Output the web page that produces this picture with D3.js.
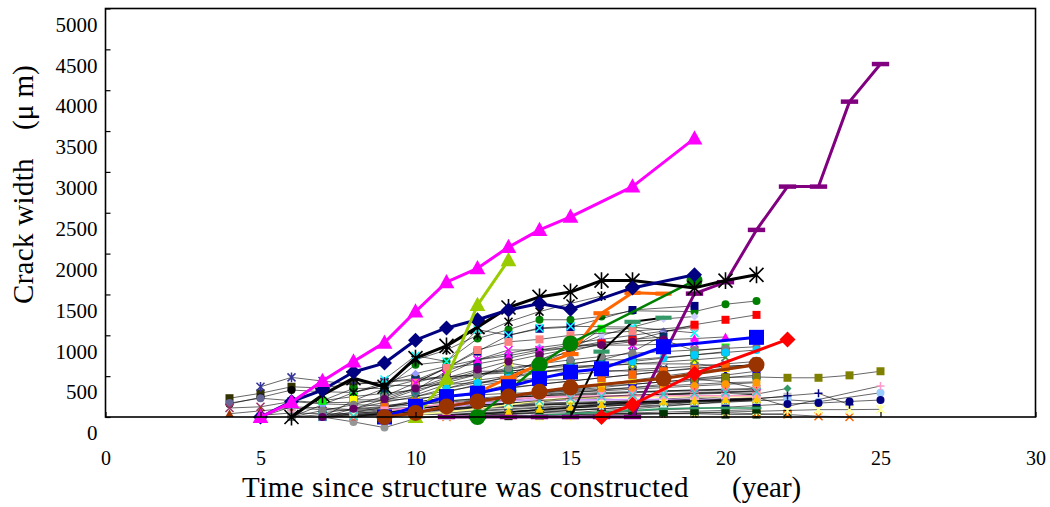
<!DOCTYPE html>
<html>
<head>
<meta charset="utf-8">
<script src="https://cdn.jsdelivr.net/npm/d3@7"></script>
<style>
  body { margin: 0; background: #fff; }
  svg text { font-family: "Liberation Serif", "Times New Roman", serif; fill: #000; }
</style>
</head>
<body>
<svg id="chart" width="1050" height="507"></svg>
<script>
// tick values
const xTicks = [0, 5, 10, 15, 20, 25, 30]
const yTicks = [0, 500, 1000, 1500, 2000, 2500, 3000, 3500, 4000, 4500, 5000]

// highlighted series (year, crack width in micrometres)
const magentaYears = [5, 6, 7, 8, 9, 10, 11, 12, 13, 14, 15, 17, 19]
const magentaValues = [0, 180, 440, 680, 910, 1290, 1650, 1820, 2080, 2290, 2450, 2820, 3410]
const navyYears = [5, 6, 7, 8, 9, 10, 11, 12, 13, 14, 15, 17, 19]
const navyValues = [0, 190, 330, 550, 660, 940, 1090, 1190, 1310, 1390, 1320, 1580, 1740]
const blackYears = [6, 7, 8, 9, 10, 11, 12, 13, 14, 15, 16, 17, 19, 20, 21]
const blackValues = [0, 270, 475, 370, 720, 870, 1100, 1340, 1470, 1530, 1670, 1670, 1580, 1670, 1740]
const limeYears = [10, 11, 12, 13]
const limeValues = [0, 470, 1370, 1920]
const orangeYears = [12, 13, 14, 15, 16, 17, 18]
const orangeValues = [300, 480, 640, 770, 1270, 1520, 1510]
const greenYears = [12, 13, 14, 15, 19]
const greenValues = [0, 320, 640, 900, 1670]
const blueYears = [9, 10, 11, 12, 13, 14, 15, 16, 18, 21]
const blueValues = [0, 130, 250, 290, 370, 470, 550, 590, 860, 975]
const brownYears = [9, 10, 11, 12, 13, 14, 15, 18, 21]
const brownValues = [0, 50, 130, 190, 250, 310, 360, 470, 640]
const redYears = [16, 17, 19, 22]
const redValues = [0, 150, 530, 950]
const purpleYears = [11, 12, 13, 14, 15, 16, 17, 19, 20, 21, 22, 23, 24, 25]
const purpleValues = [0, 0, 0, 0, 0, 0, 0, 1510, 1650, 2290, 2820, 2820, 3860, 4320]
const seaYears = [15, 16, 17, 18]
const seaValues = [0, 800, 1165, 1215]

// other structures: first year of record, then yearly readings (null = not measured)
const thinStart = [4, 4, 4, 4, 4, 5, 5, 5, 6, 6, 7, 7, 7, 7, 7, 7, 8, 8, 8, 8, 9, 9, 9, 9, 9,
    10, 10, 10, 10, 10, 10, 10, 11, 11, 11, 12, 12, 12, 13, 13, 14, 15, 16, 19, 11, 7,
    7, 7, 8, 8, 7, 6, 9, 10, 12, 9, 11, 7, 8, 13, 10, 9, 8, 11]
const thinValues = [
    [230, 290, 370, 355, 410, 430, 470, 490, 520, 540, 560, 565, 570, 560, 575],
    [160, 240, 330, 310, 300, 390, 380, 400, 420, 440, 450, 460],
    [170, 230, 200, 175, 180, 200, 230, 250, 270, 290, 300],
    [110, 125, 190, 160, 150, 140, 170, 200, 220, 240, 260, 270, 290, 300, 320, 330, 340],
    [40, 75, 110, 90, 80, 100, 120, 130, 150, 160, 170, 180, 190, 200],
    [370, 485, 440, 400, 430, 450, 480, 520, 560, 600, 650, 700, 800, 1000],
    [0, 125, 110, 90, 120, 150, 190, 230, 260, 290, 320, 340, 360, 380, 400, 420, 430],
    [20, 50, 40, 30, 50, 70, 90, 110, 130, 150, 160, 170, 180, 200, 210, 220],
    [0, 30, 50, 60, 80, 100, 120, 140, 160, 170, 180, 190, 200, 210, 220, 230],
    [0, 150, 300, 420, 530, 620, 700, 780, 850, 900, 950, 1000, 1050, 1100],
    [200, 350, 350, 640, 680, 960, 1070, 1190, 1190, 1230, 1300, null, 1290, 1380, 1420],
    [200, 250, 290, 330, 420, 520, 580, 650, 820, 1080, 1080, null, 810, 850],
    [0, 200, 350, 450, 600, 650, 720, 800, 850, 900, 950, 980],
    [0, 10, 20, 30, 30, 40, 40, 50, 50, 50, 40, 40, 40, 30, 30, 40],
    [0, 20, 40, 60, 80, 100, 120, 140, 160, 180, 200, 220, 240, 260, 280],
    [0, -60, -130, -20, 20, 40, 60, 80, 90, 100],
    [300, 390, 700, 820, 1000, 1165, 1290, 1390, 1480],
    [100, 130, 200, 300, 400, 500, 700, 850, 1000, 1100, 1200, 1230],
    [210, 210, 270, 400, 470, 660, 600, 620, null, 650, null, 650, 620],
    [60, 90, 110, 130, 150, 170, 190, 210, 230, 250, 270, 290, 300, 320],
    [250, 420, 600, 800, 1000, 1080, 1100, null, 1310, null, 1360],
    [460, 750, 680, 1070, 1000, 1090, 1110, null, 1100, null, 1030],
    [200, 330, 560, 700, 750, 820, 850, 920, 930, null, 960, 980],
    [60, 100, 150, 200, 250, 300, 340, 380, 400, 430, 460, 432, 350],
    [40, 80, 120, 160, 200, 210, 210, 210, 215, 215, 215, 215, 215],
    [420, 600, 820, 920, 950, 1000, null, 1050, null, 1110],
    [420, 520, 700, 820, 820, 880, null, 880, null, 900],
    [300, 450, 560, 560, 600, 650, 700, 700, null, 760, 800],
    [250, 350, 450, 500, 550, 600, 620, 650, null, 700, 730],
    [100, 150, 200, 250, 300, 330, 360, 400, 430, 470, 513, 560],
    [0, 0, 10, 20, 20, 30, 30, 40, 40, 50, 50, 40, 30, 10, 0],
    [150, 180, 210, 240, 260, 280, 300, 310, 320, 330, 340, 350],
    [150, 200, 230, 260, 300, 330, 360, 400, 450, 480, 513],
    [80, 120, 160, 200, 230, 250, 260, 270, 280, 290, 290],
    [30, 50, 70, 90, 110, 130, 150, 170, 190, 210, 230, 248],
    [300, 400, 700, 800, 900, 940, null, 1130, 1190, 1250],
    [30, 60, 90, 110, 130, 150, 170, 180, 190, 200, 210, 187, null, 297],
    [20, 40, 60, 80, 100, 120, 140, 160, 180, 200],
    [50, 80, 110, 140, 160, 180, 200, 220, 240, 130, null, null, 380],
    [60, 90, 120, 150, 180, 200, 220, 250, 280, 350],
    [0, 10, 20, 30, 40, 50, 60, 70, 80, 90, 90, 94],
    [50, 80, 100, 130, 160, 190, 220, 260, 290, 150],
    [50, 70, 90, 100, 120, 140, 160, 170, 190, 208],
    [470, 485, 490, 480, 480, 510, 560],
    [0, 20, 30, 50, 80, 100, 130, 150, 180, 200, 230],
    [0, 30, 60, 90, 150, 200, 250, 300, 350, 400, 450, 500, 550, 600, 650],
    [0, 40, 80, 120, 160, 200, 240, 280, 300, 320, 340, 360, 380, 400, 420],
    [0, 60, 120, 180, 240, 300, 350, 400, 440, 480, 520, 560, 600, 620, 640],
    [0, 30, 60, 100, 130, 160, 190, 220, 240, 260, 280, 300, 310, 320],
    [20, 40, 70, 100, 120, 140, 150, 160, 170, 180, 190, 200, 200, 210],
    [50, 100, 180, 250, 320, 380, 440, 480, 520, 550, 580, 600, 620, 650, 680],
    [0, 80, 150, 250, 350, 450, 520, 600, 650, 700, 740, 780, 800, 820, 840, 860],
    [10, 30, 50, 70, 90, 110, 130, 150, 170, 180, 190, 200, 210],
    [40, 60, 80, 100, 120, 140, 160, 180, 190, 200, 210, 220],
    [0, 10, 20, 30, 40, 50, 60, 70, 80, 90],
    [120, 180, 240, 300, 360, 400, 440, 480, 520, 560, 590, 620, 640],
    [350, 420, 480, 540, 600, 640, 680, 720, 760, 790, 820],
    [0, 100, 220, 350, 480, 580, 680, 760, 830, 880, 920, 950],
    [0, 50, 100, 150, 180, 210, 240, 260, 280, 300, 310, 320, 330, 340],
    [0, 20, 40, 60, 80, 100, 110, 110, 110],
    [30, 60, 100, 150, 200, 230, 240, 245, 245, 250, 250, 250],
    [80, 120, 160, 190, 220, 240, 250, 255, 260, 260, 260, 260, 260],
    [10, 40, 70, 100, 140, 170, 200, 230, 250, 270, 280, 290, 300, 310],
    [20, 40, 60, 90, 120, 150, 170, 190, 200, 210, 220]
]
const thinColors = ["#333300", "#000000", "#666699", "#993366", "#993300", "#333399", "#00FFFF", "#FF99CC",
    "#008080", "#9999FF", "#008000", "#00FF00", "#003366", "#003300", "#33CCCC", "#969696", "#000000",
    "#CCCCFF", "#FFFF00", "#FF99CC", "#000080", "#00FFFF", "#FF00FF", "#800000", "#CC99FF", "#FF8080",
    "#FF00FF", "#008080", "#339933", "#000080", "#FF6600", "#FFCC99", "#0000FF", "#FF00FF", "#C0C0C0",
    "#FF0000", "#99CCFF", "#800080", "#FF99CC", "#339966", "#FFFF99", "#000080", "#000080", "#808000",
    "#CCFFFF", "#FFCC00",
    "#FF9900", "#3366FF", "#FF0000", "#CCFFCC", "#666699", "#808080", "#0066CC", "#CCCC00", "#003300",
    "#FF6600", "#00CCFF", "#660066", "#FF8080", "#339966", "#FFFF99", "#FF99CC", "#33CCCC", "#FFCC00"]
const thinShapes = ["square", "circle", "circle", "x", "triangle", "star", "x", "star",
    "square", "diamond", "circle", "square", "square", "square", "x", "circle", "star",
    "diamond", "square", "square", "square", "x", "triangle", "circle", "circle", "square",
    "x", "square", "x", "diamond", "x", "square", "square", "x", "square",
    "square", "circle", "square", "plus", "diamond", "star", "plus", "circle", "square",
    "triangle", "square",
    "circle", "square", "triangle", "square", "x", "circle", "diamond", "star", "square",
    "square", "circle", "circle", "x", "dash", "square", "square", "x", "triangle"]
// a few background lines are drawn in the marker colour instead of black
const colouredLines = [24, 59, 60, 61]

const svg = d3.select("#chart")
const x = d3.scaleLinear().domain([0, 30]).range([105.5, 1035.5])
const y = d3.scaleLinear().domain([0, 5000]).range([417, 8.5])

function markerPath(shape, s) {
    const h = s / 2
    switch (shape) {
        case "square": return `M${-h},${-h}h${s}v${s}h${-s}Z`
        case "circle": return `M${-h},0a${h},${h} 0 1,0 ${s},0a${h},${h} 0 1,0 ${-s},0`
        case "triangle": return `M0,${-h * 1.1}L${h * 1.05},${h * 0.8}L${-h * 1.05},${h * 0.8}Z`
        case "diamond": return `M0,${-h}L${h},0L0,${h}L${-h},0Z`
        case "x": return `M${-h},${-h}L${h},${h}M${-h},${h}L${h},${-h}`
        case "star": return `M${-h},${-h}L${h},${h}M${-h},${h}L${h},${-h}M0,${-h * 1.2}V${h * 1.2}`
        case "plus": return `M${-h},0H${h}M0,${-h}V${h}`
        case "dash": return `M${-s * 0.62},${-s * 0.16}h${s * 1.24}v${s * 0.32}h${-s * 1.24}Z`
    }
}
const strokedShapes = ["x", "star", "plus"]

function drawSeries(years, values, style) {
    const pts = years.map((t, i) => [t, values[i]]).filter(d => d[1] !== null)
    const g = svg.append("g")
    g.append("path")
        .datum(pts)
        .attr("fill", "none")
        .attr("stroke", style.line)
        .attr("stroke-width", style.width)
        .attr("stroke-linejoin", "round")
        .attr("d", d3.line().x(d => x(d[0])).y(d => y(d[1])))
    const stroked = strokedShapes.includes(style.shape)
    g.selectAll(".mk")
        .data(pts)
        .join("path")
        .attr("transform", d => `translate(${x(d[0])},${y(d[1])})`)
        .attr("d", markerPath(style.shape, style.size))
        .attr("fill", stroked ? "none" : style.color)
        .attr("stroke", stroked ? style.color : "none")
        .attr("stroke-width", stroked ? style.stroke : 0)
}

// background structures
thinValues.forEach((vals, i) => {
    const years = vals.map((v, k) => thinStart[i] + k)
    const coloured = colouredLines.includes(i)
    drawSeries(years, vals, {
        line: coloured ? thinColors[i] : "#000000", width: coloured ? 1.6 : 0.6,
        shape: thinShapes[i], color: thinColors[i], size: 8, stroke: 1.5
    })
})

// highlighted structures
drawSeries(seaYears, seaValues, { line: "#000000", width: 2, shape: "dash", color: "#339966", size: 13 })
drawSeries(purpleYears, purpleValues, { line: "#800080", width: 3, shape: "dash", color: "#800080", size: 14 })
drawSeries(orangeYears, orangeValues, { line: "#FF6600", width: 3, shape: "dash", color: "#FF6600", size: 13 })
drawSeries(greenYears, greenValues, { line: "#008000", width: 2.5, shape: "circle", color: "#008000", size: 16 })
drawSeries(blackYears, blackValues, { line: "#000000", width: 3, shape: "star", color: "#000000", size: 14, stroke: 1.6 })
drawSeries(navyYears, navyValues, { line: "#000080", width: 3, shape: "diamond", color: "#000080", size: 15 })
drawSeries(limeYears, limeValues, { line: "#99CC00", width: 3, shape: "triangle", color: "#99CC00", size: 15 })
drawSeries(blueYears, blueValues, { line: "#0000FF", width: 3, shape: "square", color: "#0000FF", size: 15 })
drawSeries(brownYears, brownValues, { line: "#993300", width: 3, shape: "circle", color: "#993300", size: 16 })
drawSeries(redYears, redValues, { line: "#FF0000", width: 3, shape: "diamond", color: "#FF0000", size: 16 })
drawSeries(magentaYears, magentaValues, { line: "#FF00FF", width: 3, shape: "triangle", color: "#FF00FF", size: 15 })

// frame and axes
svg.append("rect")
    .attr("x", x(0)).attr("y", y(5000))
    .attr("width", x(30) - x(0)).attr("height", y(0) - y(5000))
    .attr("fill", "none").attr("stroke", "#000").attr("stroke-width", 1.6)

const yAxis = svg.append("g")
    .attr("transform", `translate(${x(0)},0)`)
    .call(d3.axisLeft(y).tickValues(yTicks).tickFormat(d3.format("d")).tickSize(-5).tickSizeOuter(0))
yAxis.select(".domain").remove()
yAxis.selectAll(".tick line").attr("stroke-width", 1.2)
yAxis.selectAll("text")
    .attr("x", -8).attr("y", 16)
    .style("font-family", "Liberation Serif").style("font-size", "21px")

const xAxis = svg.append("g")
    .attr("transform", `translate(0,${y(0)})`)
    .call(d3.axisBottom(x).tickValues(xTicks).tickFormat(d3.format("d")).tickSize(-5).tickSizeOuter(0))
xAxis.select(".domain").remove()
xAxis.selectAll(".tick line").attr("stroke-width", 1.2)
xAxis.selectAll("text")
    .attr("y", 34)
    .style("font-family", "Liberation Serif").style("font-size", "20px")

const xTitle = svg.append("text")
    .attr("y", 497)
    .style("font-size", "29px")
xTitle.append("tspan").attr("x", 242).style("letter-spacing", "0.5px").text("Time since structure was constructed")
xTitle.append("tspan").attr("x", 732).text("(year)")

const yTitle = svg.append("text")
    .attr("transform", "translate(33,304) rotate(-90)")
    .style("font-size", "29px")
yTitle.append("tspan").attr("x", 0).style("letter-spacing", "0.3px").text("Crack width")
yTitle.append("tspan").attr("x", 174).text("(μ m)")
</script>
</body>
</html>
